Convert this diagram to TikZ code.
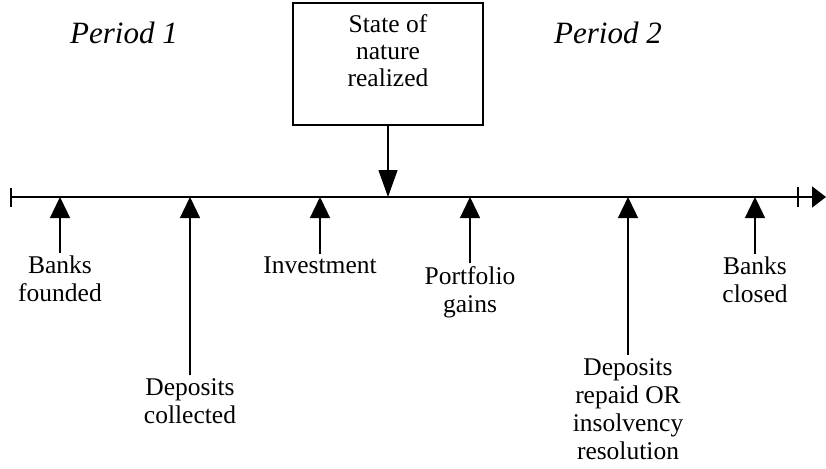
\documentclass[tikz,border=0pt]{standalone}
\usepackage{fontspec}
\setmainfont{Liberation Serif}
\usetikzlibrary{arrows.meta}
\begin{document}
\begin{tikzpicture}[x=1pt,y=-1pt,
  lbl/.style={align=center,inner sep=3pt,outer sep=0pt,font=\fontsize{25.5}{28}\selectfont},
  period/.style={inner sep=0pt,font=\fontsize{31}{34}\selectfont\itshape},
  uparrow/.style={line width=1.3pt,-{Triangle[length=21pt,width=20pt]}},
  downarrow/.style={line width=1.3pt,-{Triangle[length=27pt,width=19pt]}},
  axis/.style={line width=1.8pt,-{Triangle[length=14pt,width=21pt]}},
  tick/.style={line width=1.8pt},
  statebox/.style={draw,line width=1.3pt,inner sep=0pt,font=\fontsize{25.5}{27}\selectfont}]
\useasboundingbox (0,0) rectangle (826,468);
% timeline
\coordinate (L) at (11,197);
\coordinate (R) at (826,197);
\draw[axis] (L) -- (R);
\draw[tick] (11,188) -- (11,207);
\draw[tick] (798,187) -- (798,207);
% periods
\node[period] (p1) at (124,33) {Period 1};
\node[period] (p2) at (608,33) {Period 2};
% state box
\node[statebox] (sn) at (388,64) {\parbox[c][122pt][t]{190pt}{\centering\vspace*{12pt}State of\\nature\\realized\par}};
\coordinate (tsn) at (388,197);
\draw[downarrow] (sn.south) -- (tsn);
% event labels
\node[lbl] (bf) at (60,279) {Banks\\founded};
\node[lbl] (dc) at (190,401) {Deposits\\collected};
\node[lbl] (inv) at (320,265) {Investment};
\node[lbl] (pg) at (470,292) {Portfolio\\gains};
\node[lbl] (dr) at (628,409) {Deposits\\repaid OR\\insolvency\\resolution};
\node[lbl] (bc) at (755,280) {Banks\\closed};
\coordinate (tbf) at (60,197);
\coordinate (tdc) at (190,197);
\coordinate (tinv) at (320,197);
\coordinate (tpg) at (470,197);
\coordinate (tdr) at (628,197);
\coordinate (tbc) at (755,197);
\draw[uparrow] (bf.north) -- (tbf);
\draw[uparrow] (dc.north) -- (tdc);
\draw[uparrow] (inv.north) -- (tinv);
\draw[uparrow] (pg.north) -- (tpg);
\draw[uparrow] (dr.north) -- (tdr);
\draw[uparrow] (bc.north) -- (tbc);
\end{tikzpicture}
\end{document}
